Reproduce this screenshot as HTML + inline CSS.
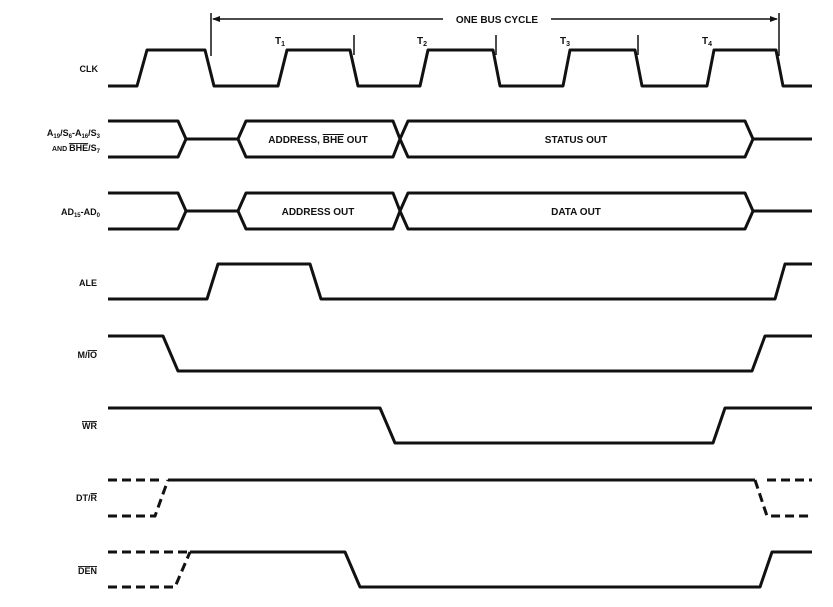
<!DOCTYPE html>
<html><head><style>
body{margin:0;background:#fff;}
svg{display:block}
text{font-family:"Liberation Sans",sans-serif;font-weight:bold;fill:#111;}
</style></head><body>
<svg width="833" height="607" viewBox="0 0 833 607" xmlns="http://www.w3.org/2000/svg">
<g fill="none" stroke="#111" stroke-width="3" stroke-linejoin="round">
<!-- CLK -->
<polyline points="108,86 137,86 147,50 205,50 214,86 278,86 287,50 350,50 358,86 420,86 428,50 493,50 500,86 563,86 570,50 635,50 642,86 707,86 714,50 776,50 783,86 812,86"/>
<!-- bus row 1 -->
<polyline points="108,121 178,121 186,139 178,157 108,157"/>
<line x1="186" y1="139" x2="238" y2="139"/>
<polygon points="238,139 246,121 393,121 400,139 393,157 246,157"/>
<polygon points="400,139 408,121 745,121 753,139 745,157 408,157"/>
<line x1="753" y1="139" x2="812" y2="139"/>
<!-- bus row 2 -->
<polyline points="108,193 178,193 186,211 178,229 108,229"/>
<line x1="186" y1="211" x2="238" y2="211"/>
<polygon points="238,211 246,193 393,193 400,211 393,229 246,229"/>
<polygon points="400,211 408,193 745,193 753,211 745,229 408,229"/>
<line x1="753" y1="211" x2="812" y2="211"/>
<!-- ALE -->
<polyline points="108,299 207,299 218,264 310,264 321,299 775,299 785,264 812,264"/>
<!-- M/IO -->
<polyline points="108,336 163,336 178,371 752,371 765,336 812,336"/>
<!-- WR -->
<polyline points="108,408 380,408 395,443 713,443 725,408 812,408"/>
<!-- DT/R -->
<line x1="168" y1="480" x2="755" y2="480"/>
<!-- DEN -->
<polyline points="190,552 345,552 360,587 760,587 772,552 812,552"/>
</g>
<g fill="none" stroke="#111" stroke-width="3" stroke-dasharray="9,5">
<line x1="108" y1="480" x2="162" y2="480"/>
<polyline points="108,516 155,516 168,480"/>
<polyline points="755,480 767,516 812,516"/>
<line x1="767" y1="480" x2="812" y2="480"/>
<line x1="108" y1="552" x2="188" y2="552"/>
<polyline points="108,587 175,587 190,552"/>
</g>
<!-- bus cycle bracket -->
<g stroke="#111" stroke-width="1.5" fill="none">
<line x1="211" y1="13" x2="211" y2="56"/>
<line x1="779" y1="13" x2="779" y2="56"/>
<line x1="213" y1="19" x2="443" y2="19"/>
<line x1="551" y1="19" x2="777" y2="19"/>
<line x1="354" y1="35" x2="354" y2="55"/>
<line x1="496" y1="35" x2="496" y2="55"/>
<line x1="638" y1="35" x2="638" y2="55"/>
</g>
<polygon points="212,19 220,16 220,22" fill="#111"/>
<polygon points="778,19 770,16 770,22" fill="#111"/>
<text x="497" y="23" font-size="10" text-anchor="middle">ONE BUS CYCLE</text>
<g font-size="10">
<text x="275" y="44">T<tspan font-size="7" dy="2">1</tspan></text>
<text x="417" y="44">T<tspan font-size="7" dy="2">2</tspan></text>
<text x="560" y="44">T<tspan font-size="7" dy="2">3</tspan></text>
<text x="702" y="44">T<tspan font-size="7" dy="2">4</tspan></text>
</g>
<g font-size="9" text-anchor="end">
<text x="98" y="72">CLK</text>
<text x="100" y="136">A<tspan font-size="6" dy="2">19</tspan><tspan dy="-2">/S</tspan><tspan font-size="6" dy="2">6</tspan><tspan dy="-2">-A</tspan><tspan font-size="6" dy="2">16</tspan><tspan dy="-2">/S</tspan><tspan font-size="6" dy="2">3</tspan></text>
<text x="100" y="151"><tspan font-size="7">AND </tspan><tspan text-decoration="overline">BHE</tspan>/S<tspan font-size="6" dy="2">7</tspan></text>
<text x="100" y="215">AD<tspan font-size="6" dy="2">15</tspan><tspan dy="-2">-AD</tspan><tspan font-size="6" dy="2">0</tspan></text>
<text x="97" y="286">ALE</text>
<text x="97" y="358">M/<tspan text-decoration="overline">IO</tspan></text>
<text x="97" y="429" text-decoration="overline">WR</text>
<text x="97" y="501">DT/<tspan text-decoration="overline">R</tspan></text>
<text x="97" y="574" text-decoration="overline">DEN</text>
</g>
<g font-size="10" text-anchor="middle">
<text x="318" y="143">ADDRESS, <tspan text-decoration="overline">BHE</tspan> OUT</text>
<text x="576" y="143">STATUS OUT</text>
<text x="318" y="215">ADDRESS OUT</text>
<text x="576" y="215">DATA OUT</text>
</g>
</svg>
</body></html>
